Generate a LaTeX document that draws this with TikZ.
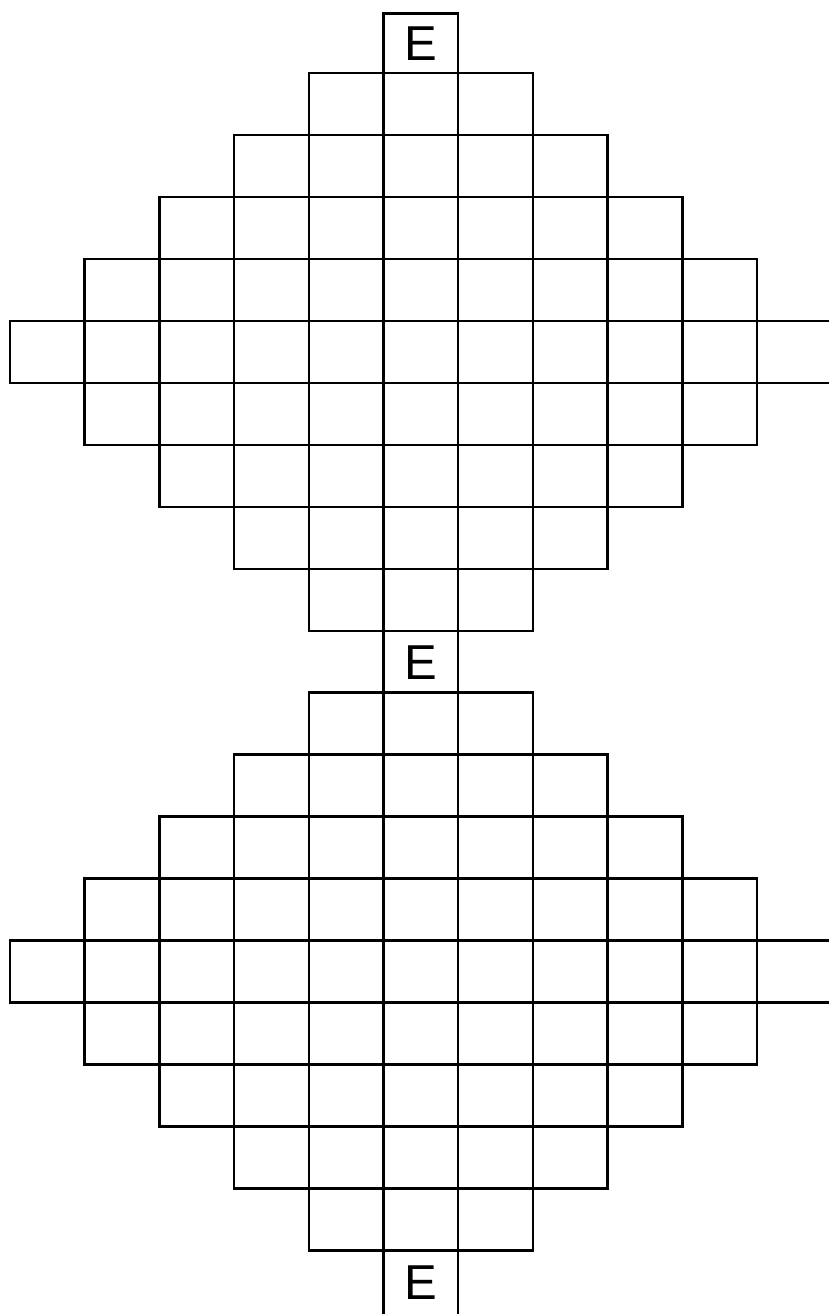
\documentclass[tikz,border=0pt]{standalone}
\usepackage{fontspec}
\setmainfont{Liberation Sans}
\begin{document}
\begin{tikzpicture}[x=1pt,y=-1pt,
  cell/.style={draw=black,line width=2.5pt},
  lbl/.style={inner sep=0pt,font=\fontsize{49}{49}\selectfont}]
\clip (0,0) rectangle (829,1314);
\def\cw{74.7}
\def\rh{62}
\foreach \tp in {73,692.5}{
  \foreach \k in {0,...,8}{
    \pgfmathtruncatemacro\off{abs(\k-4)}
    \pgfmathtruncatemacro\n{11-2*\off}
    \foreach \c in {1,...,\n}{
      \draw[cell] ({10+\cw*(\off+\c-1)},{\tp+\rh*\k}) rectangle +(\cw,\rh);
    }
  }
}
% E cells
\draw[cell] (383.5,73) -- (383.5,13.3) -- (458.2,13.3) -- (458.2,73);
\draw[cell] (383.5,631) -- (383.5,692.5);
\draw[cell] (458.2,631) -- (458.2,692.5);
\draw[cell] (383.5,1250.5) -- (383.5,1320);
\draw[cell] (458.2,1250.5) -- (458.2,1320);
\node[lbl] (E1) at (420.85,43.3) {E};
\node[lbl] (E2) at (420.85,662.5) {E};
\node[lbl] (E3) at (420.85,1283) {E};
\end{tikzpicture}
\end{document}
